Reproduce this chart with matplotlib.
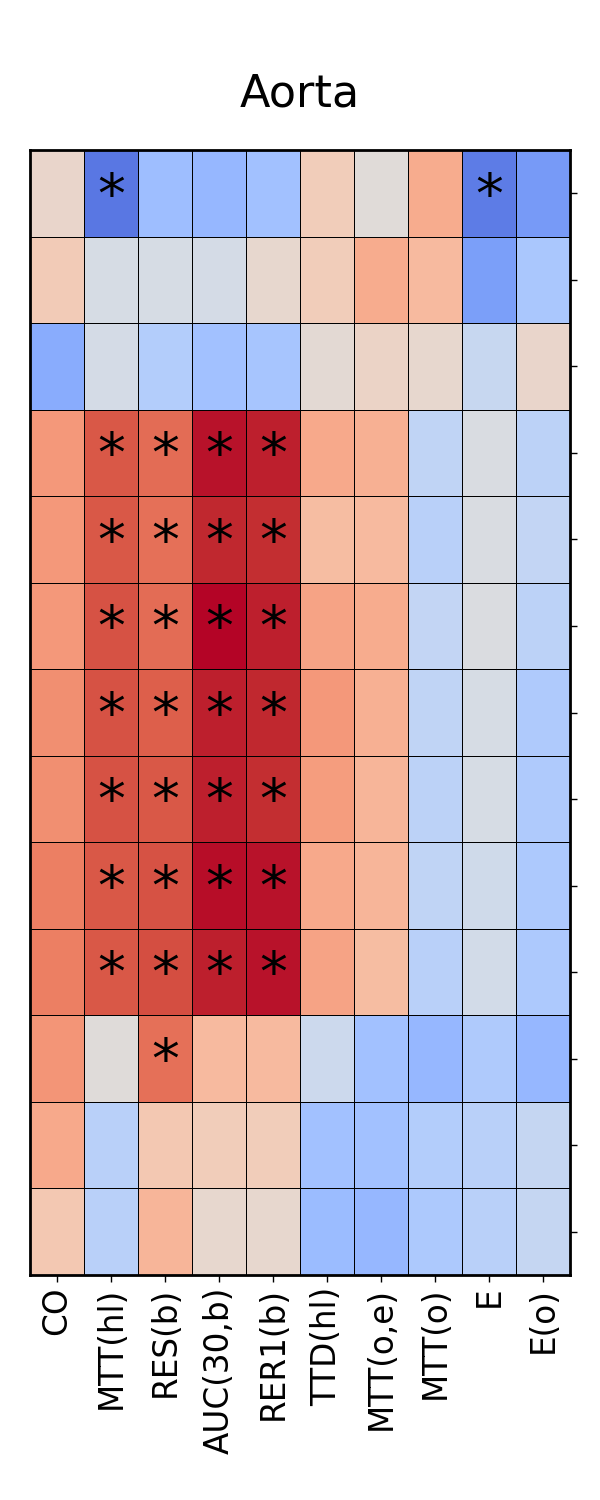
import numpy as np
import matplotlib
matplotlib.use("Agg")
import matplotlib.pyplot as plt

# column labels (parameters)
params = ['CO', 'MTT(hl)', 'RES(b)', 'AUC(30,b)', 'RER1(b)',
          'TTD(hl)', 'MTT(o,e)', 'MTT(o)', 'E', 'E(o)']

# correlation values, one row per line
r0 = [0.10, -0.80, -0.40, -0.45, -0.38, 0.18, 0.03, 0.40, -0.78, -0.62]
r1 = [0.20, -0.05, -0.05, -0.07, 0.08, 0.18, 0.40, 0.32, -0.60, -0.33]
r2 = [-0.52, -0.07, -0.28, -0.38, -0.35, 0.05, 0.12, 0.08, -0.15, 0.10]
r3 = [0.50, 0.78, 0.70, 0.97, 0.95, 0.42, 0.38, -0.20, -0.03, -0.22]
r4 = [0.50, 0.78, 0.68, 0.93, 0.92, 0.30, 0.32, -0.25, -0.03, -0.18]
r5 = [0.50, 0.80, 0.70, 1.00, 0.95, 0.45, 0.40, -0.18, -0.02, -0.22]
r6 = [0.55, 0.80, 0.75, 0.95, 0.93, 0.50, 0.38, -0.20, -0.05, -0.30]
r7 = [0.55, 0.80, 0.78, 0.95, 0.92, 0.48, 0.35, -0.22, -0.05, -0.30]
r8 = [0.62, 0.78, 0.80, 0.98, 0.97, 0.42, 0.35, -0.20, -0.10, -0.32]
r9 = [0.62, 0.78, 0.82, 0.95, 0.97, 0.45, 0.30, -0.25, -0.08, -0.32]
r10 = [0.52, 0.02, 0.68, 0.32, 0.32, -0.12, -0.38, -0.45, -0.30, -0.45]
r11 = [0.42, -0.25, 0.22, 0.18, 0.18, -0.38, -0.38, -0.28, -0.25, -0.17]
r12 = [0.22, -0.25, 0.35, 0.08, 0.08, -0.42, -0.45, -0.32, -0.25, -0.17]

# significance markers (row, col)
sig_rows = [0, 0] + [r for r in range(3, 10) for c in range(1, 5)] + [10]
sig_cols = [1, 8] + [c for r in range(3, 10) for c in range(1, 5)] + [2]

data = np.array([r0, r1, r2, r3, r4, r5, r6, r7, r8, r9, r10, r11, r12])
nrow, ncol = data.shape

fig = plt.figure(figsize=(6, 15), dpi=100)
ax = fig.add_axes([0.05, 0.15, 0.9, 0.75])
ax.pcolormesh(data, cmap='coolwarm', vmin=-1, vmax=1, edgecolors='k', linewidth=0.6)
ax.set_xlim(0, ncol)
ax.set_ylim(nrow, 0)

for r, c in zip(sig_rows, sig_cols):
    ax.text(c + 0.5, r + 0.55, '*', ha='center', va='center', fontsize=40)

ax.set_xticks(np.arange(ncol) + 0.5)
ax.set_xticklabels(params, rotation=90, fontsize=23.5)
ax.set_yticks(np.arange(nrow) + 0.5)
ax.set_yticklabels([])
ax.yaxis.tick_right()
for s in ax.spines.values():
    s.set_linewidth(2)
ax.tick_params(length=5, width=1)
ax.set_title('Aorta', fontsize=32, pad=31)

plt.savefig('out.png')
